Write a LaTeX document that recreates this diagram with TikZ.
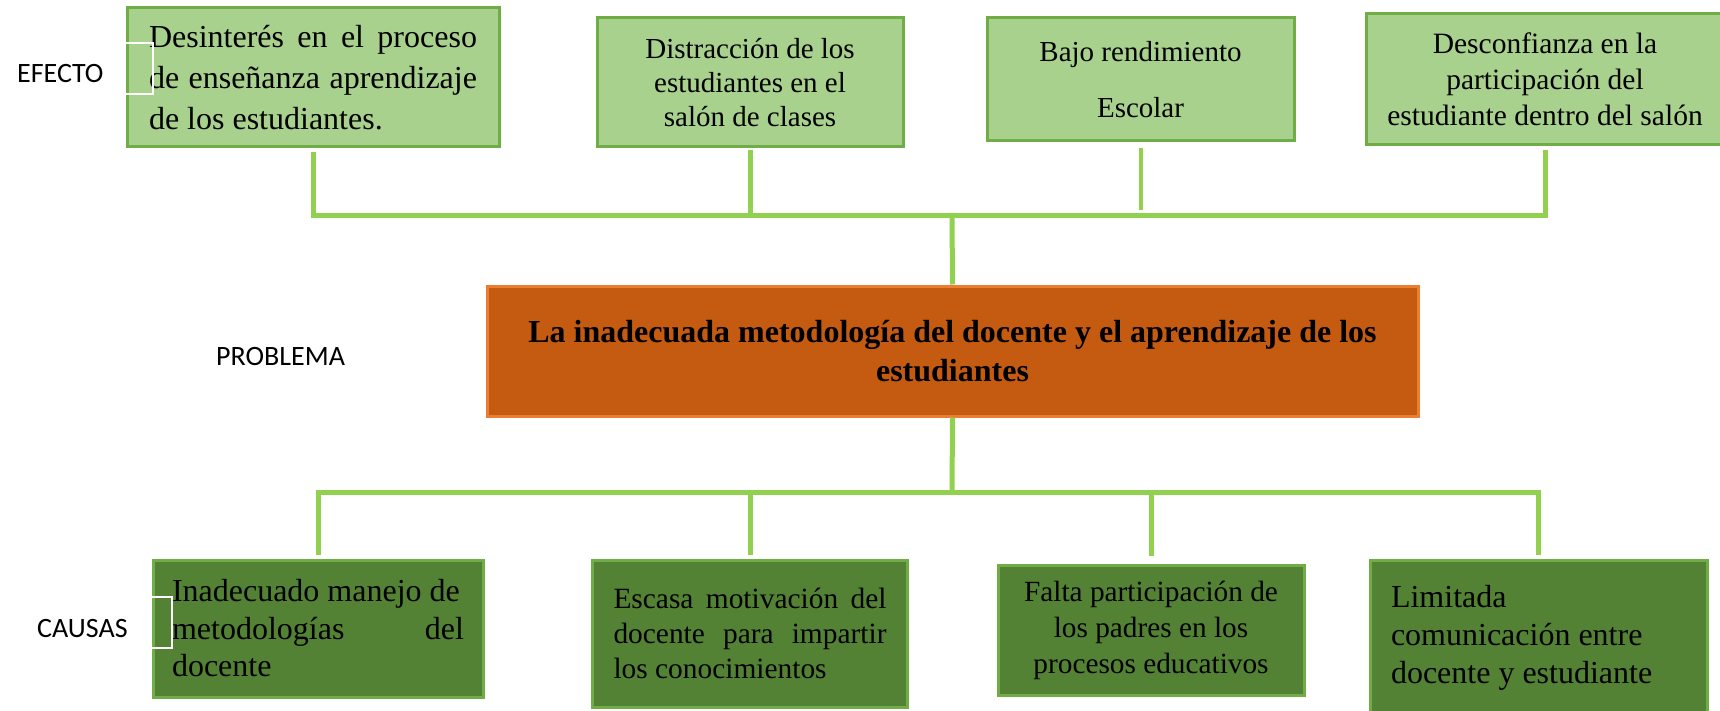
\documentclass[tikz,border=0pt]{standalone}
\usepackage{fontspec}
\setmainfont{Liberation Serif}
\newfontfamily\labelfont{Carlito}
\definecolor{efectofill}{HTML}{A9D18E}
\definecolor{boxline}{HTML}{70AD47}
\definecolor{causafill}{HTML}{548235}
\definecolor{probfill}{HTML}{C55A11}
\definecolor{probline}{HTML}{ED7D31}
\definecolor{linkgreen}{HTML}{92D050}
\hyphenpenalty=10000

\begin{document}
\begin{tikzpicture}[x=1pt,y=-1pt,
    caja/.style={draw=boxline,line width=3pt,inner xsep=21pt,inner ysep=0pt},
    efecto/.style={caja,fill=efectofill},
    causa/.style={caja,fill=causafill},
    link/.style={linkgreen,line width=5pt},
    etiqueta/.style={font=\labelfont\fontsize{28}{34}\selectfont,inner sep=0pt,anchor=base west}]
        \path[use as bounding box,fill=white] (0,0) rectangle (1720,711);
        \node[efecto,text width=328pt,minimum width=372pt,minimum height=139pt,
        align=justify,font=\fontsize{32}{41}\selectfont] (e1) at (313,77.5)
        {Desinterés en el proceso de enseñanza aprendizaje de los estudiantes.};
        \node[efecto,minimum width=306pt,minimum height=129pt,align=center,
        font=\fontsize{29}{34}\selectfont] (e2) at (750,82.5)
        {Distracción de los\\estudiantes en el\\salón de clases};
        \node[efecto,minimum width=307pt,minimum height=123pt,align=center,
        font=\fontsize{29}{34}\selectfont] (e3) at (1140.5,79.5)
        {Bajo rendimiento\\[22pt]Escolar};
        \node[efecto,minimum width=372pt,minimum height=131pt,align=center,
        font=\fontsize{29.5}{36}\selectfont] (e4) at (1552,79.5)
        {\hspace*{-14pt}Desconfianza en la\\\hspace*{-14pt}participación del\\\hspace*{-14pt}estudiante dentro del salón};
        \node[draw=probline,fill=probfill,line width=3pt,inner sep=0pt,
        minimum width=931pt,minimum height=130pt,align=center,
        font=\bfseries\fontsize{32}{39}\selectfont] (prob) at (952.5,351)
        {La inadecuada metodología del docente y el aprendizaje de los\\estudiantes};
        \node[causa,inner xsep=19pt,text width=292pt,minimum height=137pt,
        align=flush left,font=\fontsize{32}{37.5}\selectfont] (c1) at (318,628.5)
        {Inadecuado manejo de\\metodologías\hfill del\\docente};
        \node[causa,text width=273pt,minimum height=147pt,align=justify,
        font=\fontsize{29.4}{35}\selectfont] (c2) at (750,633.5)
        {Escasa motivación del docente para impartir los conocimientos};
        \node[causa,minimum width=306pt,minimum height=130pt,align=center,
        font=\fontsize{29.3}{36}\selectfont] (c3) at (1151,630)
        {Falta participación de\\los padres en los\\procesos educativos};
        \node[causa,text width=295pt,minimum height=155pt,align=flush left,
        font=\fontsize{32}{38}\selectfont] (c4) at (1538.5,637.5)
        {Limitada\\comunicación entre\\docente y estudiante};
        \node[etiqueta] (efecto) at (17,83) {EFECTO};
        \node[etiqueta] (problema) at (216,365) {PROBLEMA};
        \node[etiqueta] (causas) at (37,637) {CAUSAS};
        \draw[white,line width=2pt] (e1.west |- 0,43) -- ++(27,0) -- ++(0,51) -- ++(-27,0);
        \draw[white,line width=2pt] (c1.west |- 0,597) -- ++(20,0) -- ++(0,51) -- ++(-20,0);
        \coordinate (topbar) at (952,216);
        \coordinate (botbar) at (952,492);
        \draw[link] ([yshift=-4pt]e1.south) -- (e1.south |- topbar)
        -- ([xshift=-7pt]e4.south |- topbar) -- ([xshift=-7pt,yshift=-4pt]e4.south);
        \draw[link] ([yshift=-2pt]e2.south) -- (e2.south |- topbar);
        \draw[link,line width=4pt] ([yshift=-6pt]e3.south) -- ++(0,62);
        \draw[link] (topbar) -- (prob.north);
        \draw[link] (prob.south) -- (botbar);
        \draw[link] ([yshift=4pt]c1.north) -- (c1.north |- botbar)
        -- (c4.north |- botbar) -- ([yshift=4pt]c4.north);
        \draw[link] ([yshift=4pt]c2.north) -- (c2.north |- botbar);
        \draw[link] ([yshift=8pt]c3.north) -- (c3.north |- botbar);
      \end{tikzpicture}
\end{document}
